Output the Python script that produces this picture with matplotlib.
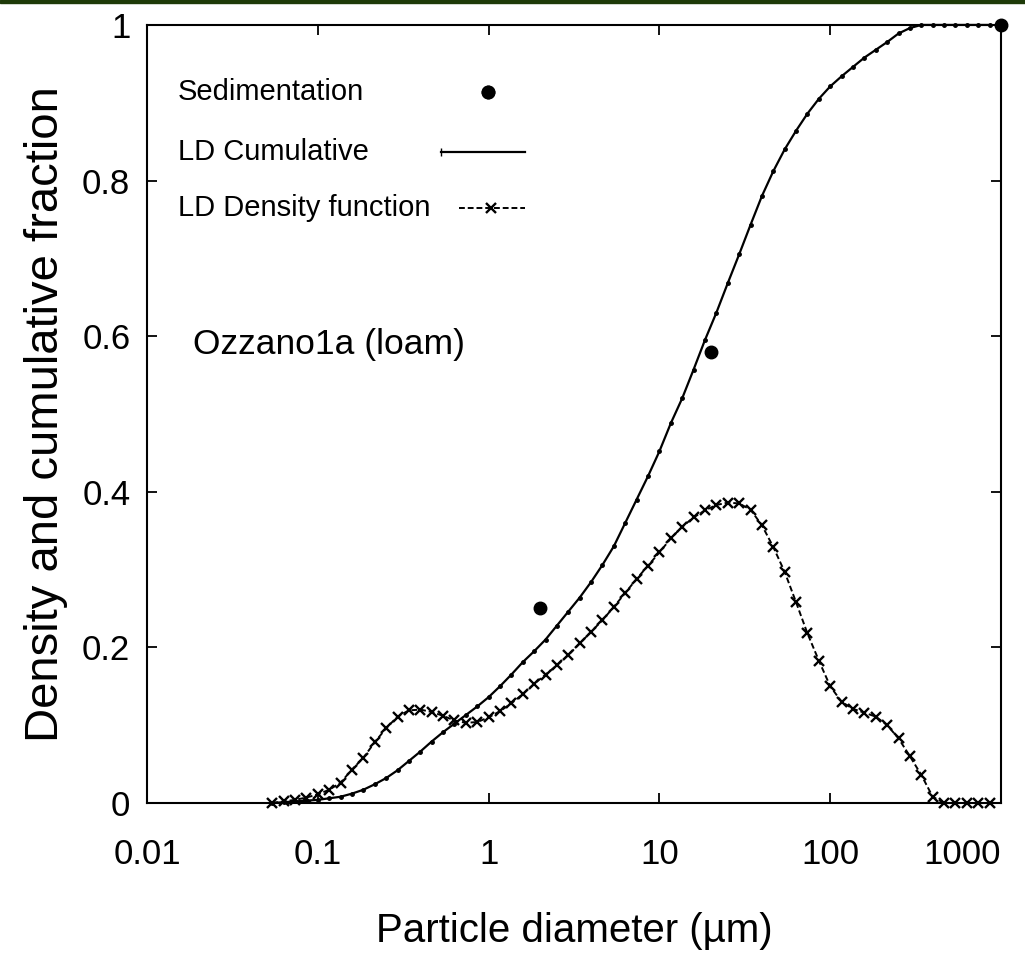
import matplotlib
matplotlib.use("Agg")
import matplotlib.pyplot as plt
from matplotlib import font_manager
from matplotlib.lines import Line2D
from matplotlib.patches import Rectangle
from matplotlib.ticker import FixedLocator, NullLocator, FixedFormatter

# particle diameter grid of the laser diffraction (um)
diameter = [
    0.0541, 0.0631, 0.0736, 0.0858, 0.1, 0.1166, 0.1359, 0.1585, 0.1848, 0.2154,
    0.2512, 0.2929, 0.3415, 0.3981, 0.4642, 0.5412, 0.631, 0.7356, 0.8577, 1.0,
    1.166, 1.359, 1.585, 1.848, 2.154, 2.512, 2.929, 3.415, 3.981, 4.642,
    5.412, 6.31, 7.356, 8.577, 10.0, 11.66, 13.59, 15.85, 18.48, 21.54,
    25.12, 29.29, 34.15, 39.81, 46.42, 54.12, 63.1, 73.56, 85.77, 100.0,
    116.6, 135.9, 158.5, 184.8, 215.4, 251.2, 292.9, 341.5, 398.1, 464.2,
    541.2, 631.0, 735.6, 857.7,
]
ld_cumulative = [
    0.0, 0.001, 0.002, 0.003, 0.004, 0.006, 0.008, 0.012, 0.017, 0.024,
    0.032, 0.042, 0.054, 0.066, 0.079, 0.091, 0.102, 0.113, 0.124, 0.136,
    0.150, 0.165, 0.181, 0.195, 0.210, 0.228, 0.246, 0.264, 0.284, 0.306,
    0.330, 0.360, 0.390, 0.420, 0.452, 0.488, 0.520, 0.557, 0.595, 0.630,
    0.668, 0.705, 0.743, 0.780, 0.812, 0.840, 0.864, 0.886, 0.905, 0.921,
    0.934, 0.946, 0.958, 0.968, 0.978, 0.989, 0.996, 1.0, 1.0, 1.0,
    1.0, 1.0, 1.0, 1.0,
]
ld_density = [
    0.0, 0.002, 0.004, 0.007, 0.011, 0.017, 0.026, 0.043, 0.058, 0.078,
    0.096, 0.111, 0.119, 0.120, 0.117, 0.112, 0.106, 0.103, 0.104, 0.110,
    0.118, 0.128, 0.140, 0.153, 0.165, 0.177, 0.190, 0.205, 0.220, 0.235,
    0.252, 0.270, 0.288, 0.305, 0.322, 0.340, 0.355, 0.367, 0.376, 0.383,
    0.386, 0.385, 0.377, 0.357, 0.329, 0.297, 0.258, 0.218, 0.183, 0.150,
    0.130, 0.121, 0.116, 0.111, 0.100, 0.083, 0.060, 0.036, 0.008, 0.0,
    0.0, 0.0, 0.0, 0.0,
]
sed_diameter = [2.0, 20.0, 1000.0]
sed_fraction = [0.25, 0.58, 1.0]

x_ticks = [0.01, 0.1, 1, 10, 100, 1000]
x_tick_labels = ["0.01", "0.1", "1", "10", "100", "1000"]
y_ticks = [0, 0.2, 0.4, 0.6, 0.8, 1]
y_tick_labels = ["0", "0.2", "0.4", "0.6", "0.8", "1"]

installed = {f.name for f in font_manager.fontManager.ttflist}
regular = "Liberation Sans" if "Liberation Sans" in installed else "DejaVu Sans"
plt.rcParams["font.family"] = [regular, "DejaVu Sans"]

figure = plt.figure(figsize=(10.25, 9.59), dpi=100)
axis = figure.add_axes([0.1434, 0.1627, 0.8332, 0.8113])

cumulative_style = dict(color="black", linewidth=1.6, marker=".", markersize=5)
density_style = dict(color="black", linewidth=1.4, linestyle=(0, (3, 1.5)),
                     marker="x", markersize=7, markeredgewidth=1.7)
sed_style = dict(linestyle="none", color="black", marker="o", markersize=9)

axis.plot(diameter, ld_cumulative, clip_on=False, zorder=3, **cumulative_style)
axis.plot(diameter, ld_density, clip_on=False, zorder=3, **density_style)
axis.plot(sed_diameter, sed_fraction, clip_on=False, zorder=4, **sed_style)

axis.set_xscale("log")
axis.set_xlim(0.01, 1000)
axis.set_ylim(0, 1)
axis.xaxis.set_major_locator(FixedLocator(x_ticks))
axis.xaxis.set_major_formatter(FixedFormatter(x_tick_labels))
axis.xaxis.set_minor_locator(NullLocator())
axis.set_yticks(y_ticks)
axis.set_yticklabels(y_tick_labels)

axis.tick_params(direction="in", length=7, width=1.3, top=True, right=True,
                 color="black", labelsize=25)
axis.tick_params(axis="x", pad=25)
axis.tick_params(axis="y", pad=12)
axis.get_xticklabels()[-1].set_horizontalalignment("right")
for spine in axis.spines.values():
    spine.set_linewidth(1.5)

axis.set_xlabel("Particle diameter (\u00b5m)", fontsize=29, labelpad=30)
axis.set_ylabel("Density and cumulative fraction", fontsize=34, labelpad=10)

# gnuplot style key: text left, sample right
key_rows = [
    ("Sedimentation", 0.914, sed_style, (0.399, 0.399)),
    ("LD Cumulative", 0.837, dict(color="black", linewidth=1.6), (0.344, 0.443)),
    ("LD Density function", 0.765, dict(color="black", linewidth=1.4,
                                        linestyle=(0, (3, 1.5))), (0.365, 0.443)),
]
for text, row_y, style, (x0, x1) in key_rows:
    axis.text(0.0363, row_y, text, transform=axis.transAxes, fontsize=21,
              va="center", ha="left")
    axis.add_line(Line2D([x0, x1], [row_y, row_y], transform=axis.transAxes,
                         clip_on=False, **style))
axis.add_line(Line2D([0.344], [0.837], transform=axis.transAxes, clip_on=False,
                     linestyle="none", marker="|", markersize=6, color="black"))
axis.add_line(Line2D([0.403], [0.765], transform=axis.transAxes, clip_on=False,
                     linestyle="none", marker="x", markersize=7,
                     markeredgewidth=1.7, color="black"))

axis.text(0.054, 0.589, "Ozzano1a (loam)", transform=axis.transAxes,
          fontsize=25.5, va="center", ha="left")

figure.add_artist(Rectangle((0, 0.997), 1, 0.003, transform=figure.transFigure,
                            color="#1e3a08", zorder=10))

figure.savefig("out.png", dpi=100)
plt.close(figure)
